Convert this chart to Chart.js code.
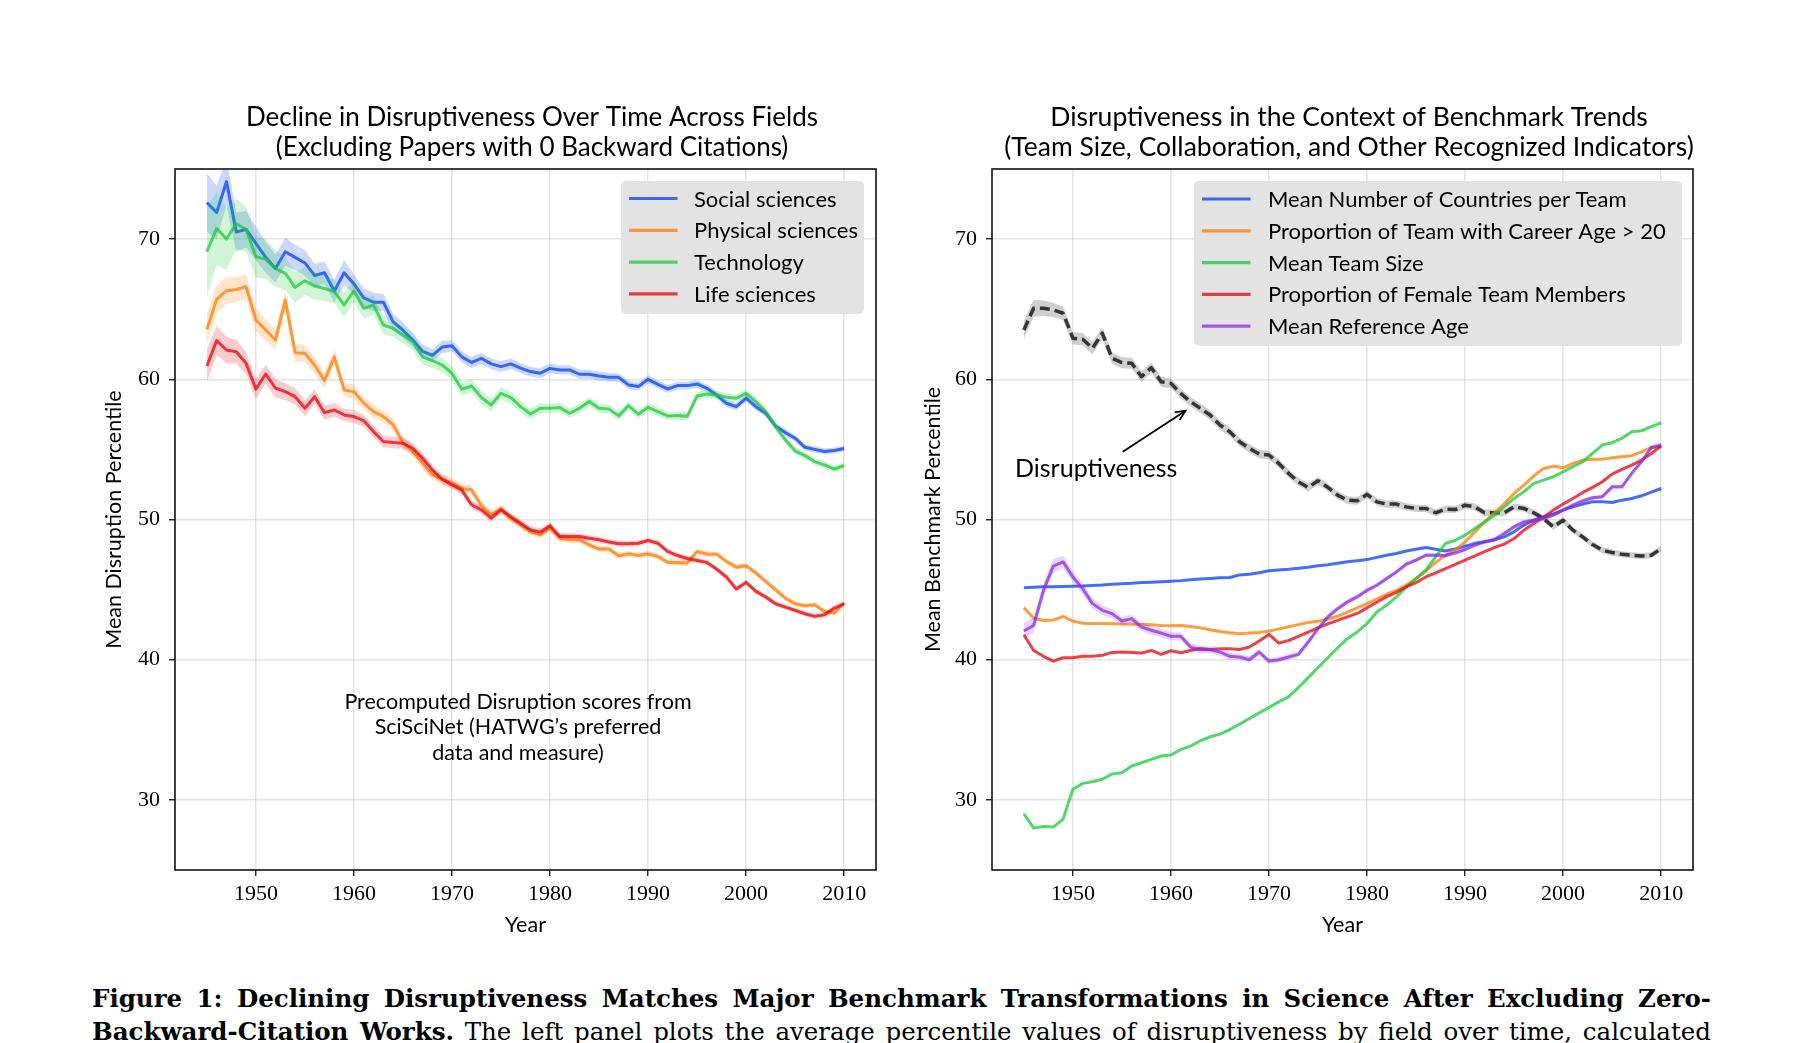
<!DOCTYPE html>
<html><head><meta charset="utf-8">
<script src="https://cdn.jsdelivr.net/npm/chart.js@4.4.1/dist/chart.umd.min.js"></script>
<style>
html,body{margin:0;padding:0;background:#fff;}
body{width:1800px;height:1043px;position:relative;overflow:hidden;}
canvas{position:absolute;top:0;}
#c1{left:0;}
#c2{left:900px;}
.cap{position:absolute;left:92px;width:1619px;font-family:"DejaVu Serif",serif;font-size:24.5px;line-height:33px;text-align:justify;text-align-last:justify;color:#000;}
</style></head>
<body>
<canvas id="c1" width="900" height="960"></canvas>
<canvas id="c2" width="900" height="960"></canvas>
<div class="cap" style="top:982px"><b>Figure 1: Declining Disruptiveness Matches Major Benchmark Transformations in Science After Excluding Zero-</b></div>
<div class="cap" style="top:1015px"><b>Backward-Citation Works.</b> The left panel plots the average percentile values of disruptiveness by field over time, calculated</div>
<script>
// ---------------- DATA ----------------
const years = [1945,1946,1947,1948,1949,1950,1951,1952,1953,1954,1955,1956,1957,1958,1959,1960,1961,1962,1963,1964,1965,1966,1967,1968,1969,1970,1971,1972,1973,1974,1975,1976,1977,1978,1979,1980,1981,1982,1983,1984,1985,1986,1987,1988,1989,1990,1991,1992,1993,1994,1995,1996,1997,1998,1999,2000,2001,2002,2003,2004,2005,2006,2007,2008,2009,2010];
const xTicks = [1950,1960,1970,1980,1990,2000,2010];
const yTicks = [30,40,50,60,70];

// Left panel: mean disruption percentile by field
const socialSciences = [72.6,71.9,74.1,70.5,70.7,69.7,68.7,67.9,69.1,68.7, 68.3,67.4,67.6,66.3,67.6,66.8,65.8,65.5,65.5,64.1, 63.5,62.8,62.0,61.7,62.3,62.4,61.6,61.2,61.5,61.1, 60.9,61.1,60.8,60.55,60.43,60.78,60.67,60.67,60.36,60.36, 60.24,60.14,60.14,59.6,59.48,60.0,59.64,59.31,59.55,59.55, 59.67,59.36,58.88,58.29,58.05,58.65,58.05,57.58,56.67,56.2, 55.8,55.15,55.0,54.85,54.92,55.06];
const physicalSciences = [63.56,65.7,66.32,66.41,66.6,64.23,63.52,62.8,65.65,61.9, 61.85,61.0,59.9,61.6,59.24,59.12,58.3,57.7,57.34,56.75, 55.5,54.85,54.0,53.18,52.87,52.6,52.23,52.1,51.0,50.35, 50.75,50.05,49.62,49.14,48.9,49.38,48.67,48.55,48.55,48.19, 47.89,47.89,47.41,47.55,47.43,47.55,47.36,46.94,46.94,46.89, 47.72,47.53,47.53,47.0,46.6,46.7,46.18,45.58,44.99,44.39, 43.99,43.85,43.92,43.44,43.33,44.04];
const technology = [69.1,70.76,70.0,71.1,70.7,68.74,68.57,67.9,67.55,66.56, 67.03,66.65,66.48,66.25,65.3,66.3,65.06,65.3,63.87,63.63, 63.16,62.68,61.6,61.33,61.02,60.43,59.29,59.52,58.7,58.17, 59.0,58.7,58.05,57.53,57.93,57.93,57.98,57.58,57.93,58.41, 57.93,57.89,57.39,58.12,57.51,58.0,57.7,57.39,57.41,57.36, 58.81,58.95,58.88,58.72,58.65,59.0,58.41,57.7,56.63,55.68, 54.9,54.56,54.13,53.9,53.59,53.85];
const lifeSciences = [60.95,62.76,62.09,61.97,61.14,59.3,60.38,59.36,59.12,58.76, 57.93,58.76,57.62,57.81,57.46,57.34,57.05,56.27,55.56,55.49, 55.44,55.08,54.37,53.54,52.87,52.47,52.1,51.05,50.69,50.1, 50.69,50.2,49.74,49.26,49.1,49.55,48.79,48.79,48.79,48.67, 48.55,48.4,48.27,48.27,48.31,48.5,48.31,47.72,47.43,47.22, 47.08,46.94,46.46,45.89,45.04,45.51,44.87,44.47,43.99,43.75, 43.52,43.28,43.09,43.2,43.68,43.99];
// half-widths of the shaded confidence bands
const socialCI = [2.1,1.9,1.7,1.4,1.3,1.2,1.1,1.0,1.0,0.9, 0.9,0.85,0.8,0.8,0.9,0.7,0.7,0.65,0.6,0.6, 0.55,0.5,0.5,0.45,0.45,0.4,0.4,0.4,0.4,0.38, 0.38,0.36,0.36,0.35,0.35,0.35,0.33,0.33,0.33,0.32, 0.32,0.32,0.3,0.3,0.3,0.3,0.3,0.28,0.28,0.28, 0.28,0.27,0.27,0.26,0.26,0.25,0.25,0.25,0.24,0.24, 0.23,0.23,0.22,0.22,0.21,0.2];
const physicalCI = [1.1,1.0,0.95,0.9,0.85,0.8,0.75,0.7,0.7,0.65, 0.6,0.6,0.55,0.55,0.5,0.5,0.48,0.46,0.44,0.42, 0.4,0.4,0.38,0.37,0.36,0.35,0.34,0.33,0.32,0.31, 0.3,0.29,0.28,0.27,0.26,0.25,0.25,0.24,0.24,0.23, 0.23,0.22,0.22,0.22,0.21,0.21,0.21,0.2,0.2,0.2, 0.2,0.2,0.2,0.2,0.2,0.2,0.19,0.19,0.19,0.19, 0.18,0.18,0.18,0.18,0.18,0.18];
const technologyCI = [3.2,2.6,2.2,1.8,1.6,1.5,1.4,1.3,1.2,1.1, 1.0,0.95,0.9,0.85,0.85,0.8,0.75,0.7,0.65,0.62, 0.6,0.57,0.55,0.52,0.5,0.5,0.48,0.47,0.46,0.45, 0.45,0.43,0.41,0.39,0.37,0.35,0.34,0.33,0.33,0.32, 0.32,0.31,0.31,0.3,0.3,0.3,0.3,0.29,0.29,0.29, 0.28,0.28,0.28,0.27,0.27,0.27,0.26,0.26,0.26,0.25, 0.25,0.25,0.24,0.24,0.24,0.24];
const lifeCI = [1.2,1.05,0.95,0.85,0.8,0.7,0.68,0.65,0.6,0.58, 0.55,0.53,0.5,0.48,0.46,0.45,0.44,0.42,0.41,0.4, 0.4,0.38,0.36,0.34,0.32,0.3,0.3,0.29,0.28,0.27, 0.27,0.26,0.26,0.25,0.25,0.25,0.24,0.24,0.23,0.23, 0.22,0.22,0.22,0.21,0.21,0.2,0.2,0.2,0.2,0.2, 0.2,0.2,0.2,0.2,0.2,0.2,0.19,0.19,0.19,0.19, 0.18,0.18,0.18,0.18,0.18,0.18];

// Right panel: benchmark percentiles
const disruptiveness = [63.52,65.07,65.07,64.95,64.71,62.93,62.86,62.21,63.29,61.5, 61.19,61.14,60.19,60.83,59.83,59.71,59.0,58.4,57.93,57.45, 56.74,56.26,55.55,55.07,54.67,54.6,54.0,53.29,52.69,52.29, 52.76,52.29,51.74,51.38,51.33,51.79,51.26,51.1,51.1,50.9, 50.79,50.79,50.48,50.74,50.71,51.02,50.9,50.48,50.48,50.48, 50.9,50.79,50.48,50.07,49.48,49.95,49.24,48.76,48.21,47.81, 47.64,47.52,47.45,47.4,47.45,47.93];
const disruptivenessCI = [0.65,0.6,0.55,0.5,0.48,0.45,0.44,0.43,0.42,0.41, 0.4,0.39,0.38,0.37,0.36,0.35,0.35,0.34,0.34,0.33, 0.33,0.32,0.32,0.31,0.31,0.3,0.3,0.3,0.29,0.29, 0.29,0.28,0.28,0.28,0.27,0.27,0.27,0.26,0.26,0.26, 0.26,0.25,0.25,0.25,0.25,0.25,0.25,0.24,0.24,0.24, 0.24,0.24,0.23,0.23,0.23,0.23,0.22,0.22,0.22,0.22, 0.22,0.21,0.21,0.21,0.21,0.21];
const countriesPerTeam = [45.14,45.17,45.2,45.21,45.22,45.24,45.26,45.3,45.33,45.38, 45.42,45.45,45.5,45.53,45.56,45.6,45.64,45.7,45.75,45.8, 45.85,45.86,46.05,46.1,46.2,46.35,46.4,46.45,46.52,46.6, 46.7,46.78,46.88,46.98,47.06,47.14,47.3,47.45,47.57,47.75, 47.88,48.0,47.88,47.76,47.9,48.1,48.3,48.42,48.55,48.76, 49.12,49.6,49.95,50.2,50.4,50.67,50.9,51.1,51.26,51.26, 51.21,51.38,51.5,51.69,51.95,52.21];
const careerAgeOver20 = [43.7,42.96,42.8,42.84,43.08,42.75,42.6,42.58,42.58,42.56, 42.54,42.52,42.52,42.49,42.44,42.42,42.44,42.37,42.27,42.13, 42.01,41.92,41.85,41.9,41.94,42.04,42.2,42.35,42.5,42.65, 42.75,42.9,43.1,43.4,43.7,44.0,44.33,44.67,44.95,45.31, 45.79,46.33,46.93,47.45,47.81,48.4,49.12,49.83,50.48,51.14, 51.86,52.45,53.1,53.64,53.81,53.69,54.0,54.24,54.29,54.29, 54.4,54.48,54.55,54.83,55.14,55.19];
const teamSize = [29.0,27.99,28.1,28.06,28.63,30.76,31.18,31.3,31.47,31.85, 31.94,32.42,32.65,32.89,33.13,33.2,33.6,33.84,34.22,34.5, 34.69,35.02,35.4,35.81,36.21,36.59,36.99,37.35,38.01,38.72, 39.43,40.14,40.85,41.5,41.98,42.57,43.4,43.88,44.48,45.19, 45.79,46.38,47.33,48.29,48.52,48.88,49.36,49.83,50.31,50.9, 51.5,51.98,52.57,52.81,53.05,53.4,53.76,54.12,54.71,55.31, 55.48,55.79,56.26,56.33,56.62,56.9];
const femaleShare = [41.78,40.66,40.24,39.9,40.14,40.14,40.24,40.24,40.31,40.52, 40.55,40.52,40.47,40.66,40.38,40.64,40.5,40.66,40.8,40.73, 40.78,40.78,40.73,40.9,41.33,41.8,41.18,41.37,41.66,41.97, 42.27,42.56,42.8,43.05,43.3,43.7,44.1,44.5,44.8,45.2, 45.5,45.9,46.2,46.5,46.8,47.1,47.4,47.71,48.0,48.24, 48.64,49.24,49.71,50.14,50.67,51.1,51.5,51.93,52.29,52.69, 53.24,53.57,53.88,54.24,54.71,55.24];
const referenceAge = [42.05,42.45,44.95,46.67,46.98,45.9,45.07,44.0,43.52,43.29, 42.76,42.93,42.33,42.1,41.9,41.67,41.67,40.9,40.71,40.71, 40.55,40.24,40.19,40.0,40.55,39.9,40.0,40.19,40.38,41.26, 42.21,43.05,43.64,44.12,44.48,44.95,45.31,45.79,46.26,46.81, 47.1,47.45,47.45,47.43,47.62,47.86,48.17,48.4,48.57,49.0, 49.48,49.83,49.95,50.07,50.31,50.67,51.02,51.33,51.55,51.62, 52.33,52.33,53.29,54.12,55.14,55.31];
const referenceAgeCI = [0.6,0.55,0.5,0.5,0.45,0.4,0.38,0.36,0.34,0.32, 0.3,0.3,0.3,0.3,0.3,0.3,0.28,0.27,0.26,0.25, 0.25,0.24,0.23,0.22,0.21,0.2,0.2,0.2,0.19,0.19, 0.18,0.18,0.18,0.17,0.17,0.17,0.16,0.16,0.16,0.16, 0.15,0.15,0.15,0.15,0.15,0.15,0.15,0.15,0.15,0.15, 0.15,0.15,0.15,0.15,0.15,0.15,0.15,0.15,0.15,0.15, 0.15,0.15,0.15,0.15,0.15,0.15];

// ---------------- STYLE ----------------
const SANS = '"Lato", "Open Sans", sans-serif';
const SERIF = '"Liberation Serif", serif';
const C = {
  blue:[2,62,255], orange:[255,124,0], green:[26,201,56], red:[232,0,11], purple:[139,43,226]
};
const rgba = (c,a)=>`rgba(${c[0]},${c[1]},${c[2]},${a})`;

function pts(vals){ return years.map((y,i)=>({x:y,y:vals[i]})); }

function buildDatasets(series){
  const ds = [];
  series.forEach((s,k)=>{
    const ord = -3*k;
    if (s.ci){
      ds.push({label:'_up', data: years.map((y,i)=>({x:y,y:s.values[i]+s.ci[i]})), borderWidth:0, pointRadius:0, fill:false, order:ord+2});
      ds.push({label:'_lo', data: years.map((y,i)=>({x:y,y:s.values[i]-s.ci[i]})), borderWidth:0, pointRadius:0, fill:'-1', backgroundColor: s.band, order:ord+1});
    }
    ds.push({label:s.label, data:pts(s.values), borderColor:s.line, borderWidth:s.width||3, borderDash:s.dash||[], pointRadius:0, fill:false, tension:0, order:ord, inLegend:s.legend!==false, legendColor:s.line, borderCapStyle:'butt', borderJoinStyle:'round'});
  });
  return ds;
}

const leftSeries = [
  {label:'Social sciences', values:socialSciences, ci:socialCI, line:rgba(C.blue,0.75), band:rgba(C.blue,0.2)},
  {label:'Physical sciences', values:physicalSciences, ci:physicalCI, line:rgba(C.orange,0.75), band:rgba(C.orange,0.2)},
  {label:'Technology', values:technology, ci:technologyCI, line:rgba(C.green,0.75), band:rgba(C.green,0.2)},
  {label:'Life sciences', values:lifeSciences, ci:lifeCI, line:rgba(C.red,0.75), band:rgba(C.red,0.2)}
];
const rightSeries = [
  {label:'Disruptiveness', values:disruptiveness, ci:disruptivenessCI, line:'rgba(40,40,40,0.92)', band:'rgba(140,140,140,0.42)', dash:[10,5], width:3.5, legend:false},
  {label:'Mean Number of Countries per Team', values:countriesPerTeam, line:rgba(C.blue,0.75)},
  {label:'Proportion of Team with Career Age > 20', values:careerAgeOver20, line:rgba(C.orange,0.75)},
  {label:'Mean Team Size', values:teamSize, line:rgba(C.green,0.75)},
  {label:'Proportion of Female Team Members', values:femaleShare, line:rgba(C.red,0.75)},
  {label:'Mean Reference Age', values:referenceAge, ci:referenceAgeCI, line:rgba(C.purple,0.75), band:rgba(C.purple,0.2)}
];

// ---------------- PLUGINS ----------------
const decor = {
  id:'decor',
  afterDatasetsDraw(chart, args, o){
    const ctx = chart.ctx, a = chart.chartArea;
    ctx.save();
    ctx.strokeStyle = '#111'; ctx.lineWidth = 1.6;
    ctx.strokeRect(a.left, a.top, a.right-a.left, a.bottom-a.top);
    ctx.fillStyle = '#000'; ctx.textAlign = 'center'; ctx.textBaseline = 'alphabetic';
    ctx.font = o.titleFont;
    const cx = (a.left+a.right)/2 + o.titleShift;
    o.title.forEach((t,i)=>ctx.fillText(t, cx, o.titleBase[i]));
    const L = o.legend;
    ctx.fillStyle = L.bg;
    ctx.beginPath(); ctx.roundRect(L.x, L.y, L.w, L.h, 5); ctx.fill();
    const items = chart.data.datasets.filter(d=>d.inLegend);
    ctx.font = L.font; ctx.textAlign='left'; ctx.textBaseline='middle';
    items.forEach((d,i)=>{
      const yy = L.first + i*L.step;
      ctx.strokeStyle = d.legendColor; ctx.lineWidth = 3.2; ctx.setLineDash([]);
      ctx.beginPath(); ctx.moveTo(L.sx0, yy); ctx.lineTo(L.sx1, yy); ctx.stroke();
      ctx.fillStyle = '#000'; ctx.fillText(d.label, L.tx, yy+1);
    });
    if (o.note){
      ctx.font = o.note.font; ctx.textAlign='center'; ctx.textBaseline='middle'; ctx.fillStyle='#000';
      o.note.lines.forEach((t,i)=>ctx.fillText(t, a.left + o.note.fx*(a.right-a.left), a.top + o.note.fy[i]*(a.bottom-a.top)));
    }
    if (o.arrow){
      const xs = chart.scales.x, ys = chart.scales.y, r = o.arrow;
      ctx.font = r.font; ctx.textAlign='center'; ctx.textBaseline='alphabetic'; ctx.fillStyle='#000';
      ctx.fillText(r.text, xs.getPixelForValue(r.textAt[0]), ys.getPixelForValue(r.textAt[1]));
      const x0 = xs.getPixelForValue(r.from[0]), y0 = ys.getPixelForValue(r.from[1]);
      const x1 = xs.getPixelForValue(r.to[0]), y1 = ys.getPixelForValue(r.to[1]);
      ctx.strokeStyle='#000'; ctx.lineWidth=1.8;
      ctx.beginPath(); ctx.moveTo(x0,y0); ctx.lineTo(x1,y1); ctx.stroke();
      const ang = Math.atan2(y1-y0, x1-x0), hl = 11, sp = 0.42;
      ctx.beginPath();
      ctx.moveTo(x1 - hl*Math.cos(ang-sp), y1 - hl*Math.sin(ang-sp));
      ctx.lineTo(x1,y1);
      ctx.lineTo(x1 - hl*Math.cos(ang+sp), y1 - hl*Math.sin(ang+sp));
      ctx.stroke();
    }
    ctx.restore();
  }
};

function makeOptions(p){
  return {
    responsive:false, animation:false, devicePixelRatio:1,
    layout:{padding:{left:p.padL, right:p.padR, top:169, bottom:0}},
    plugins:{legend:{display:false}, tooltip:{enabled:false}, title:{display:false}, decor:p.decor},
    scales:{
      x:{type:'linear', min:1941.75, max:2013.25,
        afterBuildTicks:s=>{s.ticks = xTicks.map(v=>({value:v}));},
        afterFit:s=>{s.height = 90;},
        grid:{color:'rgba(170,170,170,0.32)', lineWidth:1.5, tickLength:6, tickColor:'#111', tickWidth:1.3},
        border:{display:false},
        ticks:{font:{family:SERIF,size:22}, color:'#000', padding:5, maxRotation:0, autoSkip:false, callback:v=>String(v)},
        title:{display:true, text:'Year', font:{family:SANS,size:21.5}, color:'#000', padding:{top:0,bottom:22}}
      },
      y:{type:'linear', min:25, max:75,
        afterBuildTicks:s=>{s.ticks = yTicks.map(v=>({value:v}));},
        afterFit:s=>{s.width = p.yW;},
        grid:{color:'rgba(170,170,170,0.32)', lineWidth:1.5, tickLength:6, tickColor:'#111', tickWidth:1.3},
        border:{display:false},
        ticks:{font:{family:SERIF,size:22}, color:'#000', padding:9, callback:v=>String(v)},
        title:{display:true, text:p.yTitle, font:{family:SANS,size:21.5}, color:'#000', padding:{top:p.yTitlePad,bottom:0}}
      }
    }
  };
}

new Chart(document.getElementById('c1'), {
  type:'line',
  data:{datasets:buildDatasets(leftSeries)},
  options:makeOptions({padL:92, padR:24, yW:83, yTitlePad:9, yTitle:'Mean Disruption Percentile',
    decor:{titleFont:'26px '+SANS, titleShift:6.5, titleBase:[126,156],
      title:['Decline in Disruptiveness Over Time Across Fields','(Excluding Papers with 0 Backward Citations)'],
      legend:{x:621,y:181,w:243,h:133,bg:'#e3e3e3',font:'22px '+SANS,first:198.5,step:31.8,sx0:629,sx1:677.5,tx:694},
      note:{font:'21.5px '+SANS, fx:0.4893, fy:[0.760,0.7955,0.8326], lines:['Precomputed Disruption scores from','SciSciNet (HATWG\u2019s preferred','data and measure)']}
    }})
,plugins:[decor]});

new Chart(document.getElementById('c2'), {
  type:'line',
  data:{datasets:buildDatasets(rightSeries)},
  options:makeOptions({padL:10, padR:107, yW:82, yTitlePad:10, yTitle:'Mean Benchmark Percentile',
    decor:{titleFont:'26.5px '+SANS, titleShift:6.5, titleBase:[126,156],
      title:['Disruptiveness in the Context of Benchmark Trends','(Team Size, Collaboration, and Other Recognized Indicators)'],
      legend:{x:294,y:181,w:488,h:165,bg:'#e3e3e3',font:'22px '+SANS,first:199,step:31.8,sx0:302,sx1:350.5,tx:368},
      arrow:{font:'25px '+SANS, text:'Disruptiveness', textAt:[1952.38,53.0], from:[1955.09,54.84], to:[1961.49,57.76]}
    }})
,plugins:[decor]});
</script>
</body></html>
